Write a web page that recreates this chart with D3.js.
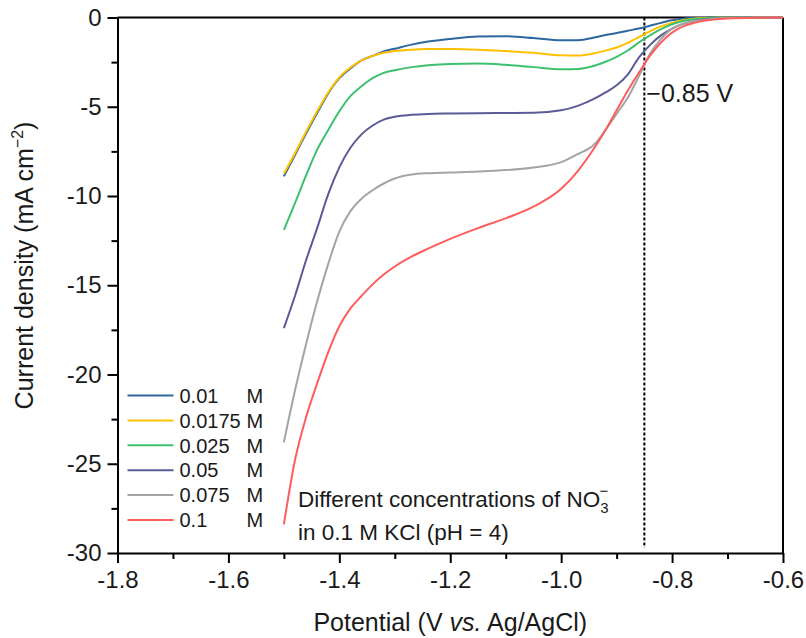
<!DOCTYPE html>
<html>
<head>
<meta charset="utf-8">
<script src="https://cdnjs.cloudflare.com/ajax/libs/d3/7.8.5/d3.min.js"></script>
<style>
  body { margin: 0; background: #fff; }
  svg text { font-family: "Liberation Sans", Arial, sans-serif; fill: #1a1a1a; }
</style>
</head>
<body>
<svg class="chart"></svg>
<script>
// potentials (V vs. Ag/AgCl), shared by all sweeps
var potentials = [-1.5,-1.48,-1.46,-1.44,-1.42,-1.40,-1.38,-1.36,-1.34,-1.32,-1.30,-1.27,-1.24,-1.20,-1.15,-1.10,-1.05,-1.00,-0.97,-0.94,-0.92,-0.90,-0.88,-0.86,-0.84,-0.82,-0.80,-0.78,-0.76,-0.74,-0.72,-0.70,-0.65,-0.60];

// current density (mA cm-2) per nitrate concentration
var j0010  = [-8.9,-7.7,-6.5,-5.35,-4.25,-3.4,-2.85,-2.4,-2.15,-1.9,-1.75,-1.52,-1.35,-1.2,-1.07,-1.05,-1.15,-1.28,-1.27,-1.12,-0.98,-0.87,-0.74,-0.62,-0.46,-0.3,-0.16,-0.07,-0.03,-0.01,0,0,0,0];
var j00175 = [-8.75,-7.6,-6.4,-5.25,-4.2,-3.35,-2.8,-2.4,-2.15,-1.98,-1.88,-1.8,-1.77,-1.77,-1.8,-1.88,-1.98,-2.12,-2.13,-2.0,-1.85,-1.68,-1.42,-1.1,-0.78,-0.5,-0.3,-0.15,-0.07,-0.03,-0.01,0,0,0];
var j0025  = [-11.9,-10.4,-8.85,-7.4,-6.3,-5.25,-4.4,-3.85,-3.4,-3.1,-2.95,-2.78,-2.67,-2.6,-2.58,-2.65,-2.78,-2.9,-2.88,-2.7,-2.48,-2.2,-1.85,-1.4,-1.0,-0.65,-0.38,-0.2,-0.1,-0.05,-0.02,0,0,0];
var j0050  = [-17.4,-15.6,-13.6,-11.8,-9.9,-8.4,-7.3,-6.55,-6.05,-5.72,-5.56,-5.45,-5.4,-5.38,-5.36,-5.35,-5.34,-5.2,-4.95,-4.55,-4.2,-3.8,-3.2,-2.25,-1.55,-1.0,-0.62,-0.36,-0.2,-0.1,-0.05,-0.02,0,0];
var j0075  = [-23.8,-20.9,-18.3,-15.9,-13.8,-12.0,-10.85,-10.15,-9.68,-9.3,-9.02,-8.8,-8.72,-8.68,-8.63,-8.55,-8.4,-8.1,-7.65,-7.1,-6.3,-5.4,-4.5,-3.3,-2.05,-1.2,-0.62,-0.35,-0.2,-0.12,-0.06,-0.03,0,0];
var j0100  = [-28.4,-24.8,-22.4,-20.5,-18.75,-17.3,-16.3,-15.6,-14.95,-14.4,-13.95,-13.4,-12.95,-12.4,-11.8,-11.25,-10.6,-9.6,-8.6,-7.3,-6.3,-5.2,-4.1,-3.1,-2.15,-1.4,-0.85,-0.5,-0.3,-0.17,-0.1,-0.05,-0.01,0];

var concLabels = ["0.01", "0.0175", "0.025", "0.05", "0.075", "0.1"];
var colors = ["#2e67a0", "#ffc000", "#3cc06e", "#5b5b97", "#a4a4a4", "#ff5c5c"];

var xTicks = [-1.8, -1.6, -1.4, -1.2, -1.0, -0.8, -0.6];
var xMinor = [-1.7, -1.5, -1.3, -1.1, -0.9, -0.7];
var yTicks = [0, -5, -10, -15, -20, -25, -30];
var yMinor = [-2.5, -7.5, -12.5, -17.5, -22.5, -27.5];
var markerPotential = -0.85;

var series = [j0010, j00175, j0025, j0050, j0075, j0100].map(function(vals, i) {
    return {
        label: concLabels[i],
        color: colors[i],
        points: potentials.map(function(v, k) { return [v, vals[k]]; })
    };
});

var margin = {top: 17.5, right: 23, bottom: 85, left: 117.5},
    fullW = 806, fullH = 638,
    width = fullW - margin.left - margin.right,
    height = fullH - margin.top - margin.bottom;

var svg = d3.select(".chart")
    .attr("width", fullW)
    .attr("height", fullH)
  .append("g")
    .attr("transform", "translate(" + margin.left + "," + margin.top + ")");

var x = d3.scaleLinear().domain([-1.8, -0.6]).range([0, width]);
var y = d3.scaleLinear().domain([-30, 0]).range([height, 0]);

var fmt = function(d) { return d3.format(".1f")(d).replace("\u2212", "-"); };

// minor ticks
svg.append("g")
    .attr("transform", "translate(0," + height + ")")
    .call(d3.axisBottom(x).tickValues(xMinor).tickSize(6).tickFormat(""))
    .call(function(g) { g.select(".domain").remove(); });
svg.append("g")
    .call(d3.axisLeft(y).tickValues(yMinor).tickSize(6).tickFormat(""))
    .call(function(g) { g.select(".domain").remove(); });

// major axes
svg.append("g")
    .attr("transform", "translate(0," + height + ")")
    .call(d3.axisBottom(x).tickValues(xTicks).tickSize(10).tickSizeOuter(0).tickPadding(8).tickFormat(fmt));
svg.append("g")
    .call(d3.axisLeft(y).tickValues(yTicks).tickSize(10).tickSizeOuter(0).tickPadding(6)
        .tickFormat(function(d) { return String(d); }));

svg.selectAll(".tick line").attr("stroke", "#000").attr("stroke-width", 2);
svg.selectAll(".domain").attr("stroke", "#000").attr("stroke-width", 2);
svg.selectAll(".tick text")
    .style("font-size", "24px")
    .style("font-family", "'Liberation Sans', Arial, sans-serif")
    .attr("fill", "#1a1a1a");

// frame top and right
svg.append("line")
    .attr("x1", 0).attr("x2", width).attr("y1", 0).attr("y2", 0)
    .attr("stroke", "#000").attr("stroke-width", 2);
svg.append("line")
    .attr("x1", width).attr("x2", width).attr("y1", 0).attr("y2", height)
    .attr("stroke", "#000").attr("stroke-width", 2);

// dashed marker
svg.append("line")
    .attr("x1", x(markerPotential)).attr("x2", x(markerPotential))
    .attr("y1", y(0)).attr("y2", y(-29.7))
    .attr("stroke", "#000").attr("stroke-width", 2)
    .attr("stroke-dasharray", "3,2");

svg.append("text")
    .attr("x", x(markerPotential) + 2)
    .attr("y", 84.5)
    .style("font-size", "25px")
    .text("\u22120.85 V");

// curves
var line = d3.line()
    .x(function(d) { return x(d[0]); })
    .y(function(d) { return y(d[1]); })
    .curve(d3.curveMonotoneX);

svg.selectAll(".curve")
    .data(series)
  .enter().append("path")
    .attr("class", "curve")
    .attr("fill", "none")
    .attr("stroke", function(d) { return d.color; })
    .attr("stroke-width", 2)
    .attr("d", function(d) { return line(d.points); });

// legend
var legend = svg.append("g")
    .attr("transform", "translate(10,378)");
var rows = legend.selectAll(".row")
    .data(series)
  .enter().append("g")
    .attr("class", "row")
    .attr("transform", function(d, i) { return "translate(0," + (i * 24.9) + ")"; });
rows.append("line")
    .attr("x1", 0).attr("x2", 46)
    .attr("stroke", function(d) { return d.color; })
    .attr("stroke-width", 2);
rows.append("text")
    .attr("x", 52).attr("dy", "0.36em")
    .style("font-size", "20px")
    .text(function(d) { return d.label; });
rows.append("text")
    .attr("x", 119).attr("dy", "0.36em")
    .style("font-size", "20px")
    .text("M");

// annotation
var note = svg.append("text")
    .attr("x", 180.5)
    .attr("y", 489)
    .style("font-size", "22.5px");
note.append("tspan").text("Different concentrations of NO");
note.append("tspan").attr("dy", 6).style("font-size", "15px").text("3");
note.append("tspan").attr("dx", -9).attr("dy", -17).style("font-size", "15px").text("\u2212");
svg.append("text")
    .attr("x", 180.5)
    .attr("y", 522.5)
    .style("font-size", "22.5px")
    .text("in 0.1 M KCl (pH = 4)");

// axis titles
var xt = svg.append("text")
    .attr("x", width / 2)
    .attr("y", height + 78)
    .attr("text-anchor", "middle")
    .style("font-size", "25px");
xt.append("tspan").text("Potential (V ");
xt.append("tspan").style("font-style", "italic").text("vs.");
xt.append("tspan").text(" Ag/AgCl)");

var yt = svg.append("text")
    .attr("transform", "translate(" + (-85) + "," + 248 + ") rotate(-90)")
    .attr("text-anchor", "middle")
    .style("font-size", "25px");
yt.append("tspan").text("Current density (mA cm");
yt.append("tspan").attr("dy", -10).style("font-size", "16px").text("\u22122");
yt.append("tspan").attr("dy", 10).text(")");
</script>
</body>
</html>
